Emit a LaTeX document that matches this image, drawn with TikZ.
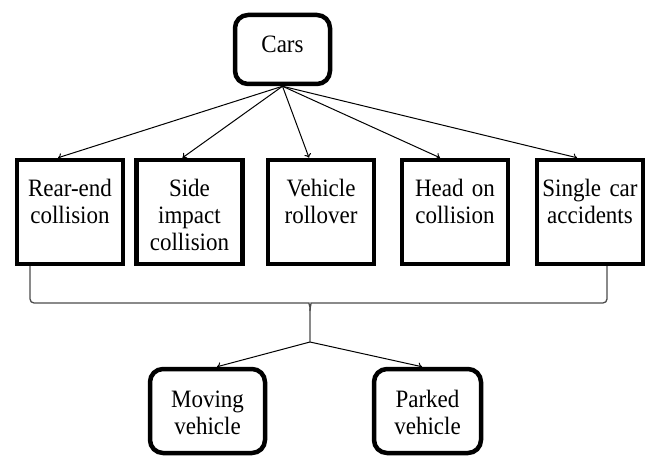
\documentclass[tikz,border=0pt]{standalone}
\usepackage{fontspec}
\newfontfamily\diafont[FakeStretch=0.92]{Liberation Serif}
\usetikzlibrary{arrows.meta}
\newcommand{\boxfont}{\diafont\fontsize{25}{27}\selectfont}
\tikzset{
  kind/.style={draw, line width=4.5pt, inner sep=0pt, align=center, font=\boxfont},
  cause/.style={kind, text width=106pt, text height=37pt, text depth=67pt},
  group/.style={kind, rounded corners=13pt, text height=38pt},
  link/.style={line width=1pt, -{To[length=4pt,width=7pt]}},
  brace/.style={line width=1.3pt, black!70, rounded corners=4pt}
}

\begin{document}
\begin{tikzpicture}[x=1pt,y=-1pt]
\useasboundingbox (0,0) rectangle (651,457);
\node[group, text width=95pt, text depth=31pt] (cars) at (282.5,49.5) {Cars};
\node[cause] (rear) at (70,212) {Rear-end\\collision};
\node[cause] (side) at (189.5,212) {Side\\impact\\collision};
\node[cause] (roll) at (321,212) {Vehicle\\rollover};
\node[cause] (head) at (455,212) {Head on\\collision};
\node[cause] (single) at (590,212) {Single car\\accidents};
\node[group, text width=115pt, text depth=46pt] (moving) at (207.5,411) {Moving\\vehicle};
\node[group, text width=107pt, text depth=46pt] (parked) at (427.5,411) {Parked\\vehicle};
\coordinate (mid) at (310,303);
\coordinate (split) at (310,342);
\path[link] (cars.south) edge ([xshift=-12pt]rear.north)
            (cars.south) edge ([xshift=-7pt]side.north)
            (cars.south) edge ([xshift=-12pt]roll.north)
            (cars.south) edge ([xshift=-15pt]head.north)
            (cars.south) edge ([xshift=-13pt]single.north);
\draw[brace] ([xshift=-40pt]rear.south) |- ([xshift=-5pt]mid) to[out=0,in=90] ([yshift=-8pt]mid) -- (split);
\draw[brace] ([xshift=17pt]single.south) |- ([xshift=5pt]mid) to[out=180,in=90] ([yshift=-8pt]mid);
\path[link] (split) edge ([xshift=9.5pt]moving.north)
            (split) edge ([xshift=-5.5pt]parked.north);
\end{tikzpicture}
\end{document}
